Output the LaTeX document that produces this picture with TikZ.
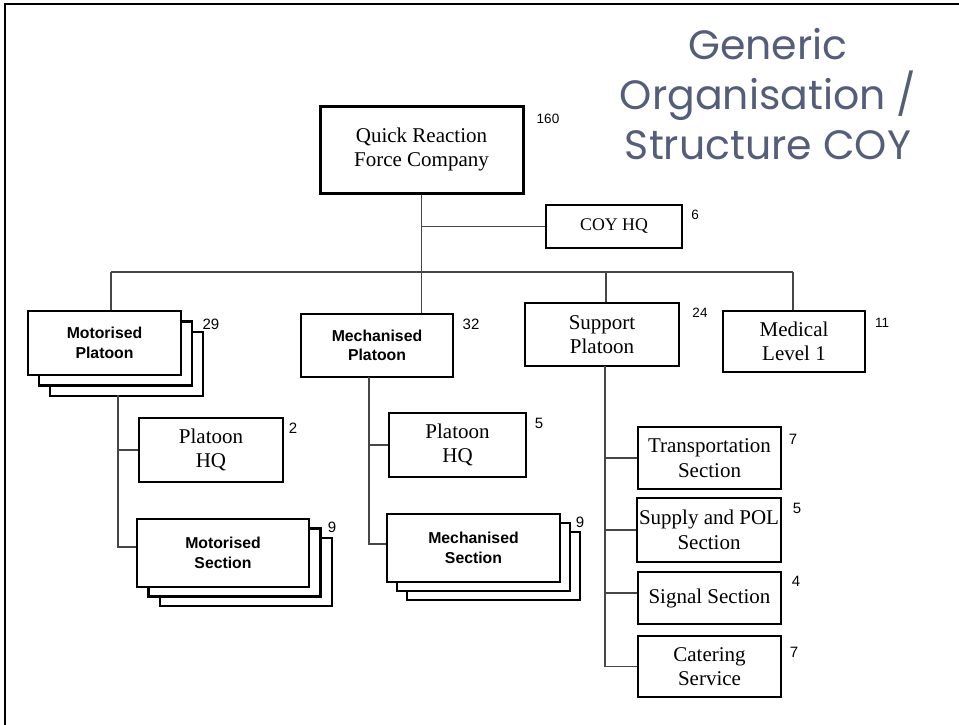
\documentclass[tikz,border=0pt]{standalone}
\usepackage{fontspec}
\setmainfont{Liberation Serif}
\newfontfamily\arialfont{Liberation Sans}
\newfontfamily\titlefont{Poppins}
\definecolor{titleblue}{RGB}{84,94,122}
\definecolor{linkgray}{RGB}{70,70,70}

\begin{document}
\begin{tikzpicture}[x=1pt,y=-1pt,
  box/.style={draw, line width=2.7pt, fill=white, inner sep=0pt, align=center,
    font=\fontsize{21}{24.5}\selectfont},
  sansbox/.style={box, font=\arialfont\bfseries\fontsize{15.8}{19.5}\selectfont},
  count/.style={font=\arialfont\fontsize{15}{16}\selectfont, inner sep=0pt},
  smallcount/.style={count, font=\arialfont\fontsize{13.5}{16}\selectfont},
  link/.style={draw=linkgray, line width=1.2pt},
  title/.style={font=\titlefont\fontsize{41}{50}\selectfont, text=titleblue, align=center}]
\useasboundingbox (0,0) rectangle (959,725);

% frame edges
\draw[line width=2.5pt] (5,725) -- (5,4) -- (959,4);

% title
\node[title] (ttl) at (768,94) {Generic\\Organisation /\\Structure COY};

% company level
\node[box, line width=3pt, minimum width=203, minimum height=87] (qrf) at (421.5,149.5)
  {Quick Reaction\\Force Company};
\node[box, font=\fontsize{17.8}{20}\selectfont, minimum width=136, minimum height=43] (coyhq) at (614,226.5) {COY HQ};

% platoon level (stacked boxes drawn back to front)
\node[sansbox, minimum width=153, minimum height=64] (motp3) at (126.5,364) {};
\node[sansbox, minimum width=153, minimum height=64] (motp2) at (115.5,353.5) {};
\node[sansbox, minimum width=153, minimum height=64] (motp) at (104.5,343) {Motorised\\Platoon};
\node[sansbox, minimum width=152, minimum height=63] (mechp) at (377,345.5) {Mechanised\\Platoon};
\node[box, minimum width=154, minimum height=63] (supp) at (602,334.5) {Support\\Platoon};
\node[box, minimum width=142, minimum height=61] (med) at (794,341.5) {Medical\\Level 1};

% motorised platoon elements
\node[box, minimum width=144, minimum height=64] (mothq) at (211,450) {Platoon\\HQ};
\node[sansbox, minimum width=172, minimum height=68] (motsec3) at (246,572) {};
\node[sansbox, minimum width=172, minimum height=68] (motsec2) at (234.5,562.5) {};
\node[sansbox, minimum width=172, minimum height=68] (motsec) at (223,553) {Motorised\\Section};

% mechanised platoon elements
\node[box, minimum width=137, minimum height=64] (mechhq) at (457.5,445) {Platoon\\HQ};
\node[sansbox, minimum width=173, minimum height=68] (mechsec3) at (493.5,566) {};
\node[sansbox, minimum width=173, minimum height=68] (mechsec2) at (483.5,557) {};
\node[sansbox, minimum width=173, minimum height=68] (mechsec) at (473.5,548) {Mechanised\\Section};

% support platoon elements
\node[box, minimum width=143, minimum height=62] (trans) at (709.5,458) {Transportation\\Section};
\node[box, minimum width=144, minimum height=64] (supply) at (709,530) {Supply and POL\\Section};
\node[box, minimum width=143, minimum height=52] (signal) at (709.5,598) {Signal Section};
\node[box, minimum width=143, minimum height=61] (cater) at (709.5,666.5) {Catering\\Service};

% strengths
\node[smallcount] (n160) at (548,119) {160};
\node[smallcount] (n6) at (695,215) {6};
\node[count] (n29) at (211,324) {29};
\node[count] (n32) at (471,324) {32};
\node[smallcount] (n24) at (700,313) {24};
\node[smallcount] (n11) at (882,323) {11};
\node[count] (n2) at (293,428) {2};
\node[count] (n9a) at (332,527) {9};
\node[count] (n5a) at (539,423) {5};
\node[count] (n9b) at (580,522) {9};
\node[count] (n7a) at (793,439) {7};
\node[count] (n5b) at (797,508) {5};
\node[count] (n4) at (796,581) {4};
\node[count] (n7b) at (794,652) {7};

% company connectors
\coordinate (busL) at (111,272);
\coordinate (busR) at (793,272);
\coordinate (busS) at (606,272);
\path[link] (qrf.south) -- (qrf.south |- mechp.north);
\path[link] (qrf.south |- coyhq.west) -- (coyhq.west);
\path[link] (busL) -- (busR);
\path[link] (busL) -- (busL |- motp.north);
\path[link] (busS) -- (busS |- supp.north);
\path[link] (busR) -- (busR |- med.north);

% motorised branch
\coordinate (ms) at (118,395);
\path[link] (ms) |- (mothq.west);
\path[link] (ms) |- ([yshift=6pt]motsec.west);

% mechanised branch
\coordinate (hs) at (369,377);
\path[link] (hs) |- (mechhq.west);
\path[link] (hs) |- ([yshift=4pt]mechsec.west);

% support branch
\coordinate (ss) at (605,366);
\path[link] (ss) |- (trans.west);
\path[link] (ss) |- (supply.west);
\path[link] (ss) |- ([yshift=5pt]signal.west);
\path[link] (ss) |- (cater.west);
\end{tikzpicture}
\end{document}
